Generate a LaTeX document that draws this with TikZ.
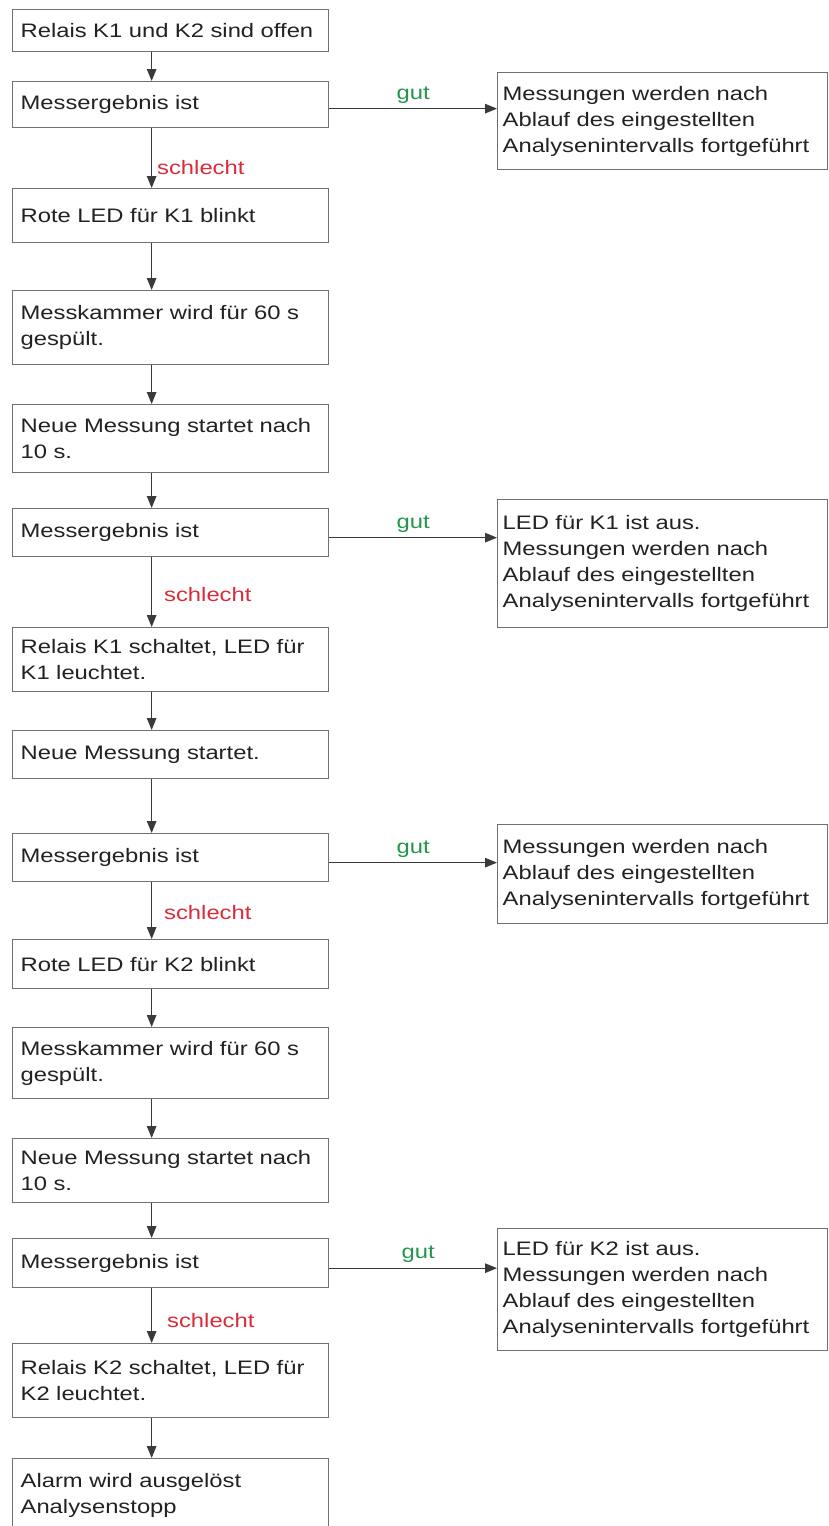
\documentclass[tikz,border=0pt]{standalone}
\usepackage{fontspec}
\setmainfont{Liberation Sans}[FakeStretch=1.22]
\usetikzlibrary{arrows.meta}
\definecolor{linegray}{HTML}{3A3A3A}
\definecolor{boxgray}{HTML}{707070}
\definecolor{txt}{HTML}{222222}
\definecolor{gutgreen}{HTML}{23964B}
\definecolor{badred}{HTML}{D92B3A}
\begin{document}
\begin{tikzpicture}[x=1pt,y=-1pt,
  font=\fontsize{19.5}{26}\selectfont,
  box/.style={draw=boxgray, line width=1.3pt, fill=white, text=txt,
    text width=300pt, inner xsep=8pt, inner ysep=0pt, align=left,
    anchor=north west},
  rbox/.style={box, text width=320pt, inner xsep=5pt},
  arr/.style={-{Triangle[length=12pt,width=9.5pt]}, line width=1.2pt, draw=linegray, fill=linegray},
  gutlbl/.style={text=gutgreen, inner sep=2pt},
  badlbl/.style={text=badred, inner sep=0pt, anchor=base west}]
\useasboundingbox (0,0) rectangle (828,1526);
\clip (0,0) rectangle (828,1526);
\fill[white] (0,0) rectangle (828,1526);
% left column
\node[box, minimum height=42pt] (b1) at (12,9) {Relais K1 und K2 sind offen};
\node[box, minimum height=46pt] (b2) at (12,81) {Messergebnis ist};
\node[box, minimum height=54pt] (b3) at (12,188) {Rote LED für K1 blinkt};
\node[box, minimum height=74pt] (b4) at (12,290) {Messkammer wird für 60 s\\gespült.};
\node[box, minimum height=68pt] (b5) at (12,404) {Neue Messung startet nach\\10 s.};
\node[box, minimum height=48pt] (b6) at (12,508) {Messergebnis ist};
\node[box, minimum height=64pt] (b7) at (12,627) {Relais K1 schaltet, LED für\\K1 leuchtet.};
\node[box, minimum height=48pt] (b8) at (12,730) {Neue Messung startet.};
\node[box, minimum height=48pt] (b9) at (12,833) {Messergebnis ist};
\node[box, minimum height=49pt] (b10) at (12,939) {Rote LED für K2 blinkt};
\node[box, minimum height=71pt] (b11) at (12,1027) {Messkammer wird für 60 s\\gespült.};
\node[box, minimum height=64pt] (b12) at (12,1138) {Neue Messung startet nach\\10 s.};
\node[box, minimum height=49pt] (b13) at (12,1238) {Messergebnis ist};
\node[box, minimum height=74pt] (b14) at (12,1343) {Relais K2 schaltet, LED für\\K2 leuchtet.};
\node[box, minimum height=74pt] (b15) at (12,1458) {Alarm wird ausgelöst\\Analysenstopp};
% right column
\node[rbox, minimum height=97pt] (r1) at (497,72) {Messungen werden nach\\Ablauf des eingestellten\\Analysenintervalls fortgeführt};
\node[rbox, minimum height=128pt] (r2) at (497,499) {LED für K1 ist aus.\\Messungen werden nach\\Ablauf des eingestellten\\Analysenintervalls fortgeführt};
\node[rbox, minimum height=99pt] (r3) at (497,824) {Messungen werden nach\\Ablauf des eingestellten\\Analysenintervalls fortgeführt};
\node[rbox, minimum height=122pt] (r4) at (497,1228) {LED für K2 ist aus.\\Messungen werden nach\\Ablauf des eingestellten\\Analysenintervalls fortgeführt};
% vertical arrows
\foreach \a/\b in {b1/b2,b2/b3,b3/b4,b4/b5,b5/b6,b6/b7,b7/b8,b8/b9,b9/b10,b10/b11,b11/b12,b12/b13,b13/b14,b14/b15}
  \draw[arr] ([xshift=-19pt]\a.south) -- ([xshift=-19pt]\b.north);
% horizontal arrows
\draw[arr] ([yshift=-4pt]b2.east) -- ([yshift=-4pt]b2.east -| r1.west) node[midway, above=3pt, gutlbl] (g1) {gut};
\draw[arr] ([yshift=-5pt]b6.east) -- ([yshift=-5pt]b6.east -| r2.west) node[midway, above=3pt, gutlbl] (g2) {gut};
\draw[arr] ([yshift=-5pt]b9.east) -- ([yshift=-5pt]b9.east -| r3.west) node[midway, above=3pt, gutlbl] (g3) {gut};
\draw[arr] ([yshift=-5pt]b13.east) -- ([yshift=-5pt]b13.east -| r4.west) node[midway, above=3pt, gutlbl, xshift=5pt] (g4) {gut};
% schlecht labels
\node[badlbl] (s1) at (157,174) {schlecht};
\node[badlbl] (s2) at (164,601) {schlecht};
\node[badlbl] (s3) at (164,919) {schlecht};
\node[badlbl] (s4) at (167,1327) {schlecht};
\end{tikzpicture}
\end{document}
